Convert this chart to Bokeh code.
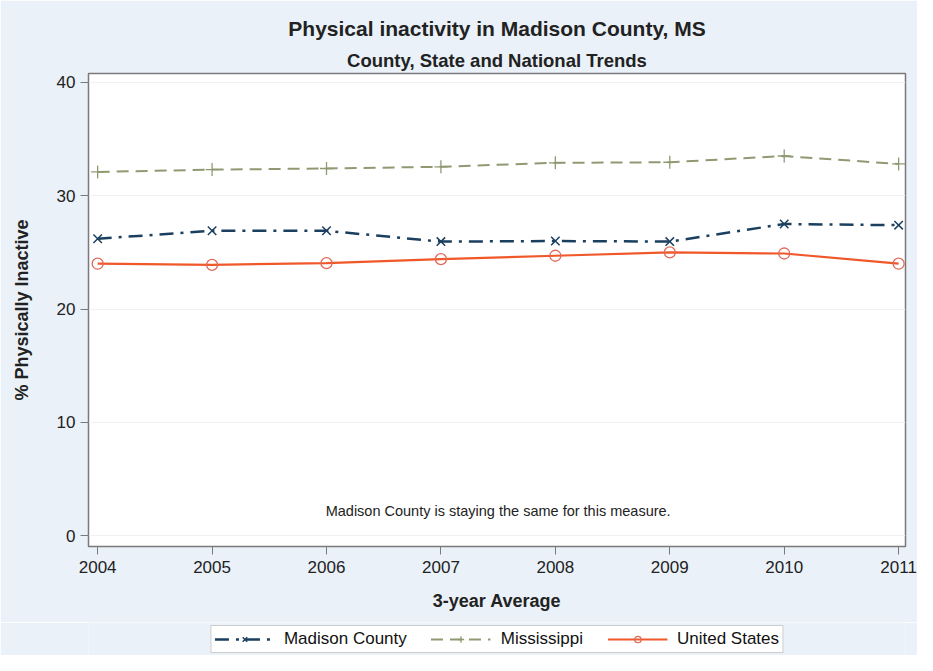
from bokeh.plotting import figure
from bokeh.models import Range1d, Legend, LegendItem, Title, FixedTicker, Label
from bokeh.layouts import column
from bokeh.embed import file_html
from bokeh.resources import INLINE

years = [2004, 2005, 2006, 2007, 2008, 2009, 2010, 2011]
madison = [26.2, 26.9, 26.9, 25.95, 26.0, 25.95, 27.5, 27.4]
mississippi = [32.1, 32.3, 32.4, 32.55, 32.9, 32.95, 33.5, 32.8]
united_states = [24.0, 23.9, 24.05, 24.4, 24.7, 25.0, 24.9, 24.0]
y_ticks = [0, 10, 20, 30, 40]
note_text = "Madison County is staying the same for this measure."

FONT = "Liberation Sans"
BG = "#eaf1f8"

c_mad = "#1a3f5f"
c_ms = "#8f9a72"
c_us = "#f0582a"
c_us_marker = "#e06a5a"

p = figure(width=917, height=622, output_backend="svg", toolbar_location=None,
           x_range=Range1d(2003.92, 2011.06), y_range=Range1d(-0.95, 40.78),
           min_border_left=88, min_border_right=12, min_border_top=73, min_border_bottom=76,
           background_fill_color="white", border_fill_color=BG)
p.outline_line_color = "#7a7a7a"
p.outline_line_width = 1.5

p.xgrid.grid_line_color = None
p.ygrid.grid_line_color = "#f2f2f2"

for ax in (p.xaxis[0], p.yaxis[0]):
    ax.axis_line_color = "#7a7a7a"
    ax.major_tick_line_color = "#7a7a7a"
    ax.major_tick_out = 8
    ax.major_tick_in = 0
    ax.minor_tick_line_color = None
    ax.major_label_text_font = FONT
    ax.major_label_text_font_size = "17px"
    ax.major_label_text_color = "#222222"
    ax.axis_label_text_font = FONT
    ax.axis_label_text_font_style = "bold"
    ax.axis_label_text_font_size = "18px"
    ax.axis_label_text_color = "#222222"

p.xaxis.ticker = FixedTicker(ticks=years)
p.yaxis.ticker = FixedTicker(ticks=y_ticks)
p.xaxis.axis_label = "3-year Average"
p.yaxis.axis_label = "% Physically Inactive"
p.xaxis.major_label_standoff = 6
p.xaxis.axis_label_standoff = 15
p.yaxis.major_label_standoff = 5
p.yaxis.axis_label_standoff = 22


def draw_series(fig):
    r_ms = fig.line(years, mississippi, line_color=c_ms, line_width=2, line_dash="12 7")
    s_ms = fig.scatter(years, mississippi, marker="cross", size=13, line_color=c_ms, line_width=1.3)
    r_mad = fig.line(years, madison, line_color=c_mad, line_width=2.5, line_dash="14 7 3 7")
    s_mad = fig.scatter(years, madison, marker="x", size=12, line_color=c_mad, line_width=1.5)
    r_us = fig.line(years, united_states, line_color=c_us, line_width=2.2)
    s_us = fig.scatter(years, united_states, marker="circle", size=11, line_color=c_us_marker,
                       fill_color=None, line_width=1.3)
    return (r_mad, s_mad), (r_ms, s_ms), (r_us, s_us)


draw_series(p)

note = Label(x=(years[0] + years[-1]) / 2, y=2.2, text=note_text, text_align="center",
             text_baseline="middle", text_font=FONT, text_font_size="14.5px",
             text_color="#222222")
p.add_layout(note)

sub = Title(text="County, State and National Trends", align="center", text_font=FONT,
            text_font_size="18.5px", text_font_style="bold", text_color="#222222", standoff=6)
main = Title(text="Physical inactivity in Madison County, MS", align="center", text_font=FONT,
             text_font_size="21px", text_font_style="bold", text_color="#222222")
p.add_layout(sub, "above")
p.add_layout(main, "above")

# legend strip (series drawn outside its visible range, only the legend shows)
lf = figure(width=917, height=33, output_backend="svg", toolbar_location=None,
            x_range=Range1d(0, 1), y_range=Range1d(0, 1), min_border=0,
            background_fill_color=BG, border_fill_color=BG)
lf.outline_line_color = None
lf.axis.visible = False
lf.grid.visible = False
mad_r, ms_r, us_r = draw_series(lf)

legend = Legend(items=[
    LegendItem(label="Madison County", renderers=list(mad_r)),
    LegendItem(label="Mississippi", renderers=list(ms_r)),
    LegendItem(label="United States", renderers=list(us_r)),
], orientation="horizontal", location="center")
legend.label_text_font = FONT
legend.label_text_font_size = "17px"
legend.label_text_color = "#111111"
legend.glyph_width = 60
legend.glyph_height = 16
legend.label_standoff = 10
legend.spacing = 24
legend.padding = 3
legend.margin = 0
legend.border_line_color = "#999999"
legend.background_fill_color = "white"
legend.background_fill_alpha = 1
lf.add_layout(legend, "center")

layout = column(p, lf, spacing=0)
open("out.html", "w").write(file_html(layout, INLINE))
